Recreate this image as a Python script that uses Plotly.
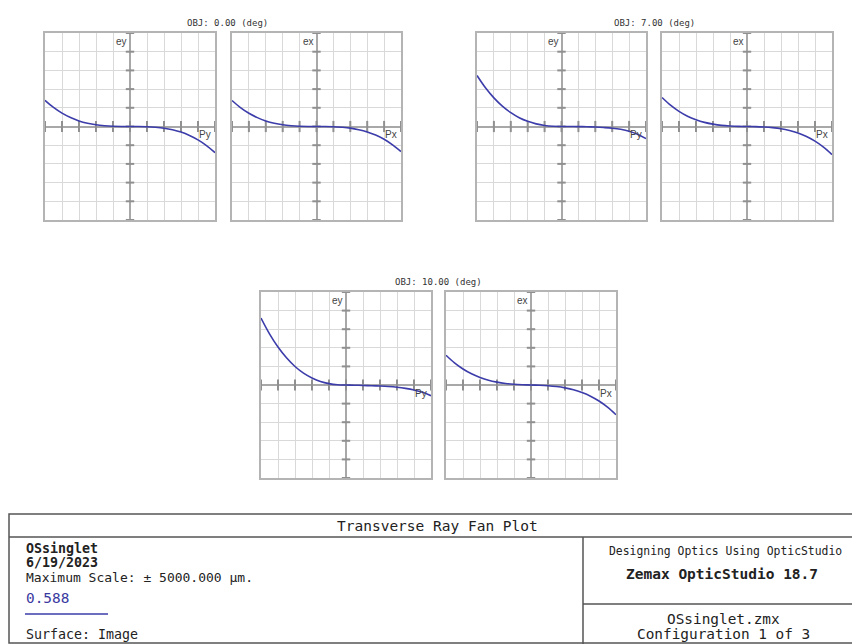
import plotly.graph_objects as go

# page body has an 8px margin; figure is sized to fill the rest of the 860x644 window
OFF = 8
W, H = 860 - OFF, 644 - OFF

# ---------------- data (normalized to max scale ±5000 µm) ----------------
pupil = [-1.0, -0.9, -0.8, -0.7, -0.6, -0.5, -0.4, -0.3, -0.2, -0.1, 0.0,
         0.1, 0.2, 0.3, 0.4, 0.5, 0.6, 0.7, 0.8, 0.9, 1.0]

obj0_ey = [0.280, 0.204, 0.143, 0.096, 0.060, 0.035, 0.018, 0.008, 0.002, 0.000, 0.0,
           -0.000, -0.002, -0.008, -0.018, -0.035, -0.060, -0.096, -0.143, -0.204, -0.280]
obj0_ex = [0.278, 0.203, 0.142, 0.095, 0.060, 0.035, 0.018, 0.008, 0.002, 0.000, 0.0,
           -0.000, -0.002, -0.008, -0.017, -0.034, -0.058, -0.092, -0.137, -0.196, -0.268]
obj7_ey = [0.545, 0.414, 0.306, 0.218, 0.148, 0.094, 0.055, 0.028, 0.011, 0.002, 0.0,
           0.000, -0.001, -0.003, -0.006, -0.011, -0.018, -0.030, -0.050, -0.083, -0.130]
obj7_ex = [0.310, 0.228, 0.162, 0.110, 0.072, 0.044, 0.025, 0.012, 0.005, 0.001, 0.0,
           -0.001, -0.005, -0.012, -0.024, -0.043, -0.070, -0.107, -0.157, -0.221, -0.300]
obj10_ey = [0.720, 0.550, 0.408, 0.292, 0.199, 0.128, 0.076, 0.038, 0.015, 0.003, 0.0,
            -0.002, -0.005, -0.008, -0.011, -0.016, -0.024, -0.036, -0.053, -0.078, -0.115]
obj10_ex = [0.320, 0.238, 0.172, 0.120, 0.081, 0.051, 0.031, 0.017, 0.008, 0.003, 0.0,
            -0.003, -0.008, -0.017, -0.031, -0.051, -0.081, -0.120, -0.172, -0.238, -0.320]

field_titles = ["OBJ: 0.00 (deg)", "OBJ: 7.00 (deg)", "OBJ: 10.00 (deg)"]
grid_ticks = [-1.0, -0.8, -0.6, -0.4, -0.2, 0.0, 0.2, 0.4, 0.6, 0.8, 1.0]

# ---------------- layout geometry (window pixels) ----------------
panels = [
    # (x0, x1, y0, y1, values, vlabel, hlabel)
    (45, 215, 33, 220, obj0_ey, "ey", "Py"),
    (232, 401, 33, 220, obj0_ex, "ex", "Px"),
    (477, 646, 33, 220, obj7_ey, "ey", "Py"),
    (662, 832, 33, 220, obj7_ex, "ex", "Px"),
    (261, 431, 292, 478, obj10_ey, "ey", "Py"),
    (446, 616, 292, 478, obj10_ex, "ex", "Px"),
]

def px(x):
    return (x - OFF) / W

def py(y):
    return 1 - (y - OFF) / H

CURVE = "#3c3caa"
GRID = "#d9d9d9"
FRAME = "#b4b4b4"
AXIS = "#a8a8a8"
TICK = "#909090"
MONO = "DejaVu Sans Mono"

fig = go.Figure()
layout = dict(width=W, height=H, margin=dict(l=0, r=0, t=0, b=0),
              paper_bgcolor="white", plot_bgcolor="white", showlegend=False)
annotations = []
shapes = []

for i, (x0, x1, y0, y1, vals, vlab, hlab) in enumerate(panels):
    n = "" if i == 0 else str(i + 1)
    xa, ya = "x" + n, "y" + n
    common = dict(range=[-1, 1], showgrid=True, gridcolor=GRID, gridwidth=1,
                  tickvals=grid_ticks, showticklabels=False, ticks="",
                  showline=True, linecolor=FRAME, linewidth=2, mirror=True,
                  zeroline=True, zerolinecolor=AXIS, zerolinewidth=2, fixedrange=True)
    layout["xaxis" + n] = dict(domain=[px(x0), px(x1)], anchor=ya, **common)
    layout["yaxis" + n] = dict(domain=[py(y1), py(y0)], anchor=xa, **common)

    # tick dashes along the central axes
    fig.add_trace(go.Scatter(x=grid_ticks, y=[0] * len(grid_ticks), xaxis=xa, yaxis=ya,
                             mode="markers", hoverinfo="skip",
                             marker=dict(symbol="line-ns", size=8,
                                         line=dict(color=TICK, width=2))))
    fig.add_trace(go.Scatter(x=[0] * len(grid_ticks), y=grid_ticks, xaxis=xa, yaxis=ya,
                             mode="markers", hoverinfo="skip",
                             marker=dict(symbol="line-ew", size=6,
                                         line=dict(color=TICK, width=2))))
    # ray fan curve
    fig.add_trace(go.Scatter(x=pupil, y=vals, xaxis=xa, yaxis=ya, mode="lines",
                             line=dict(color=CURVE, width=1.6, shape="spline"),
                             hoverinfo="skip"))

    annotations.append(dict(xref=xa + " domain", yref=ya + " domain", x=0.5, y=1.0,
                            xanchor="right", yanchor="top", xshift=-1, yshift=-1,
                            text=vlab, showarrow=False,
                            font=dict(family="Liberation Sans", size=10, color="#444")))
    annotations.append(dict(xref=xa + " domain", yref=ya + " domain", x=1.0, y=0.5,
                            xanchor="right", yanchor="top", xshift=-2, yshift=-1,
                            text=hlab, showarrow=False,
                            font=dict(family="Liberation Sans", size=10, color="#444")))

# field titles centred over each pair
for k, t in enumerate(field_titles):
    a, b = panels[2 * k], panels[2 * k + 1]
    cx = (a[0] + b[1]) / 2 + (4 if k == 0 else 0)
    annotations.append(dict(xref="paper", yref="paper", x=px(cx), y=py(a[2] - 10),
                            xanchor="center", yanchor="middle", text=t, showarrow=False,
                            font=dict(family=MONO, size=9, color="#333")))

# ---------------- bottom info box ----------------
line_c = "#555555"
def hline(xa_, xb_, y, w=1.5, c=line_c):
    shapes.append(dict(type="line", xref="paper", yref="paper", x0=px(xa_), x1=px(xb_),
                       y0=py(y), y1=py(y), line=dict(color=c, width=w)))
def vline(x, ya_, yb_, w=1.5, c=line_c):
    shapes.append(dict(type="line", xref="paper", yref="paper", x0=px(x), x1=px(x),
                       y0=py(ya_), y1=py(yb_), line=dict(color=c, width=w)))

shapes.append(dict(type="rect", xref="paper", yref="paper", x0=px(9), x1=px(859),
                   y0=py(643), y1=py(514), line=dict(color=line_c, width=1.5)))
hline(9, 859, 537)
vline(583, 537, 644)
hline(583, 859, 604)
hline(25, 108, 614, w=1.6, c=CURVE)

def txt(x, y, s, size, anchor="left", bold=False, color="#222"):
    annotations.append(dict(xref="paper", yref="paper", x=px(x), y=py(y),
                            xanchor=anchor, yanchor="middle", showarrow=False,
                            text=("<b>%s</b>" % s) if bold else s,
                            font=dict(family=MONO, size=size, color=color)))

txt(437, 526, "Transverse Ray Fan Plot", 14.5, anchor="center")
txt(24, 548, "OSsinglet", 13.3, bold=True)
txt(24, 562, "6/19/2023", 13.3, bold=True)
txt(24, 577, "Maximum Scale: ± 5000.000 µm.", 13)
txt(24, 598, "0.588", 14.4, color="#3a3aa0")
txt(24, 634, "Surface: Image", 13.3)
txt(725, 551, "Designing Optics Using OpticStudio", 11.4, anchor="center")
txt(722, 574, "Zemax OpticStudio 18.7", 14.5, anchor="center", bold=True)
txt(723, 619, "OSsinglet.zmx", 14.4, anchor="center")
txt(723, 634, "Configuration 1 of 3", 14.4, anchor="center")

layout["annotations"] = annotations
layout["shapes"] = shapes
fig.update_layout(**layout)
fig.write_html("out.html")
